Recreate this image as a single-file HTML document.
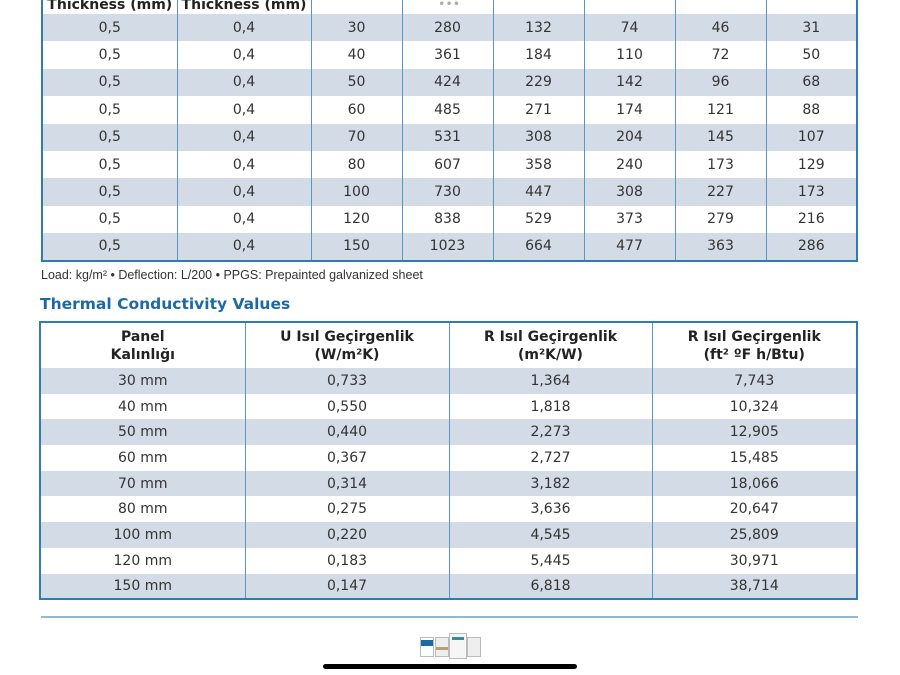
<!DOCTYPE html>
<html><head><meta charset="utf-8"><style>
body{margin:0;width:900px;height:675px;background:#fff;position:relative;overflow:hidden;font-family:"DejaVu Sans","Liberation Sans",sans-serif;color:#333}
table{position:absolute;border-collapse:collapse;table-layout:fixed;border:2px solid #2f7db0}
td{border-left:1px solid #5a97c0;text-align:center;padding:0;font-size:14px;color:#333}
td:first-child{border-left:none}
tr.s td{background:#d3dbe6}
.h td{font-weight:bold;font-size:14px;line-height:18px;color:#222}
</style></head><body>
<table style="left:41px;top:-15px;width:817px">
<colgroup><col style="width:135px"><col style="width:134px"><col style="width:91px"><col style="width:91px"><col style="width:91px"><col style="width:91px"><col style="width:91px"><col style="width:91px"></colgroup>
<tr class="h" style="height:28px"><td style="vertical-align:bottom">Thickness (mm)</td><td style="vertical-align:bottom">Thickness (mm)</td><td></td><td style="position:relative"><span style="position:absolute;left:36px;bottom:0;font-size:10px;color:#aaa;letter-spacing:1px">•••</span></td><td></td><td></td><td></td><td></td></tr>
<tr class="s" style="height:27.4px"><td>0,5</td><td>0,4</td><td>30</td><td>280</td><td>132</td><td>74</td><td>46</td><td>31</td></tr>
<tr style="height:27.4px"><td>0,5</td><td>0,4</td><td>40</td><td>361</td><td>184</td><td>110</td><td>72</td><td>50</td></tr>
<tr class="s" style="height:27.4px"><td>0,5</td><td>0,4</td><td>50</td><td>424</td><td>229</td><td>142</td><td>96</td><td>68</td></tr>
<tr style="height:27.4px"><td>0,5</td><td>0,4</td><td>60</td><td>485</td><td>271</td><td>174</td><td>121</td><td>88</td></tr>
<tr class="s" style="height:27.4px"><td>0,5</td><td>0,4</td><td>70</td><td>531</td><td>308</td><td>204</td><td>145</td><td>107</td></tr>
<tr style="height:27.4px"><td>0,5</td><td>0,4</td><td>80</td><td>607</td><td>358</td><td>240</td><td>173</td><td>129</td></tr>
<tr class="s" style="height:27.4px"><td>0,5</td><td>0,4</td><td>100</td><td>730</td><td>447</td><td>308</td><td>227</td><td>173</td></tr>
<tr style="height:27.4px"><td>0,5</td><td>0,4</td><td>120</td><td>838</td><td>529</td><td>373</td><td>279</td><td>216</td></tr>
<tr class="s" style="height:27.4px"><td>0,5</td><td>0,4</td><td>150</td><td>1023</td><td>664</td><td>477</td><td>363</td><td>286</td></tr>
</table>
<div style="position:absolute;left:41px;top:268px;font-family:'Liberation Sans',sans-serif;font-size:12.5px;color:#333">Load: kg/m² • Deflection: L/200 • PPGS: Prepainted galvanized sheet</div>
<div style="position:absolute;left:40px;top:295px;font-size:15.5px;font-weight:bold;color:#1d6aa3">Thermal Conductivity Values</div>
<table style="left:39px;top:321px;width:819px">
<colgroup><col style="width:205px"><col style="width:204px"><col style="width:203px"><col style="width:205px"></colgroup>
<tr class="h" style="height:46px"><td>Panel<br>Kalınlığı</td><td>U Isıl Geçirgenlik<br>(W/m²K)</td><td>R Isıl Geçirgenlik<br>(m²K/W)</td><td>R Isıl Geçirgenlik<br>(ft² ºF h/Btu)</td></tr>
<tr class="s" style="height:25.7px"><td>30 mm</td><td>0,733</td><td>1,364</td><td>7,743</td></tr>
<tr style="height:25.7px"><td>40 mm</td><td>0,550</td><td>1,818</td><td>10,324</td></tr>
<tr class="s" style="height:25.7px"><td>50 mm</td><td>0,440</td><td>2,273</td><td>12,905</td></tr>
<tr style="height:25.7px"><td>60 mm</td><td>0,367</td><td>2,727</td><td>15,485</td></tr>
<tr class="s" style="height:25.7px"><td>70 mm</td><td>0,314</td><td>3,182</td><td>18,066</td></tr>
<tr style="height:25.7px"><td>80 mm</td><td>0,275</td><td>3,636</td><td>20,647</td></tr>
<tr class="s" style="height:25.7px"><td>100 mm</td><td>0,220</td><td>4,545</td><td>25,809</td></tr>
<tr style="height:25.7px"><td>120 mm</td><td>0,183</td><td>5,445</td><td>30,971</td></tr>
<tr class="s" style="height:25.7px"><td>150 mm</td><td>0,147</td><td>6,818</td><td>38,714</td></tr>
</table>
<div style="position:absolute;left:41px;top:616px;width:817px;height:2px;background:#8fbad6"></div>
<div style="position:absolute;left:420px;top:637px;width:12px;height:18px;border:1px solid #bbb;background:#fff"><div style="height:6px;margin-top:2px;background:#1d6aa3"></div></div>
<div style="position:absolute;left:435px;top:637px;width:12px;height:18px;border:1px solid #bbb;background:#eee"><div style="height:3px;margin-top:9px;background:#b8a070"></div></div>
<div style="position:absolute;left:449px;top:633px;width:16px;height:24px;border:1px solid #bbb;background:#f6f6f6"><div style="height:3px;margin:3px 2px;background:#3a8a9a"></div></div>
<div style="position:absolute;left:467px;top:637px;width:12px;height:18px;border:1px solid #bbb;background:#eee"></div>
<div style="position:absolute;left:323px;top:664px;width:254px;height:5px;border-radius:3px;background:#000"></div>
</body></html>
